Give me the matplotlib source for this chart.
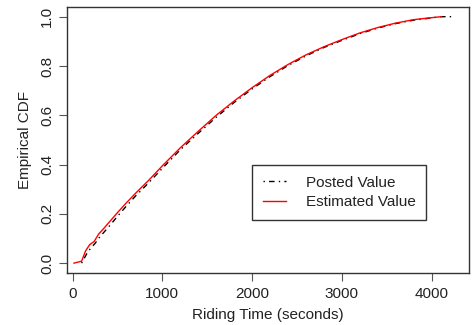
import matplotlib
matplotlib.use("Agg")
import matplotlib.pyplot as plt

plt.rcParams['font.family'] = ['Liberation Sans', 'DejaVu Sans']

# estimated riding time ECDF
est_x = [15, 100, 145, 190, 240, 290, 350, 400, 500, 600, 700, 850, 1000,
         1200, 1400, 1600, 1800, 2000, 2200, 2400, 2600, 2800, 3000, 3200,
         3400, 3600, 3800, 4000, 4110]
est_y = [0.0, 0.008, 0.05, 0.075, 0.088, 0.118, 0.142, 0.163, 0.205, 0.245,
         0.283, 0.337, 0.395, 0.468, 0.535, 0.6, 0.658, 0.712, 0.762, 0.806,
         0.845, 0.878, 0.907, 0.934, 0.956, 0.974, 0.988, 0.996, 1.0]

# posted riding time ECDF
post_x = [100, 130, 160, 200, 250, 300, 360, 420, 500, 600, 700, 850, 1000,
          1200, 1400, 1600, 1800, 2000, 2200, 2400, 2600, 2800, 3000, 3200,
          3400, 3600, 3800, 4000, 4100, 4250]
post_y = [0.0, 0.02, 0.04, 0.06, 0.08, 0.105, 0.13, 0.155, 0.19, 0.232, 0.272,
          0.327, 0.385, 0.46, 0.527, 0.592, 0.652, 0.707, 0.757, 0.802, 0.841,
          0.875, 0.904, 0.931, 0.954, 0.972, 0.986, 0.995, 1.0, 1.0]

x_ticks = [0, 1000, 2000, 3000, 4000]
y_ticks = [0.0, 0.2, 0.4, 0.6, 0.8, 1.0]

fig = plt.figure(figsize=(4.73, 3.25), dpi=100)
ax = fig.add_axes([0.141, 0.16, 0.8505, 0.819])

ax.plot(post_x, post_y, color="black", lw=1.0, linestyle=(0, (1, 3, 4, 3)), label="Posted Value")
ax.plot(est_x, est_y, color="#FF0000", lw=1.0, label="Estimated Value")

# R default: posted data range plus 4% on each side
ax.set_xlim(-66, 4416)
ax.set_ylim(-0.04, 1.04)
ax.set_xticks(x_ticks)
ax.set_yticks(y_ticks)
ax.set_yticklabels(["0.0", "0.2", "0.4", "0.6", "0.8", "1.0"], rotation=90, va="center")
ax.tick_params(labelsize=11, length=6, width=0.8, color="#555555", labelcolor="#222222", pad=4)
ax.tick_params(axis="y", pad=3)
for s in ax.spines.values():
    s.set_color("#333333")
    s.set_linewidth(1.0)

ax.set_xlabel("Riding Time (seconds)", fontsize=11, labelpad=5, color="#222222")
ax.set_ylabel("Empirical CDF", fontsize=11, labelpad=6, color="#222222")

leg = ax.legend(loc="upper left", bbox_to_anchor=(0.461, 0.406), fontsize=11,
                handlelength=1.5, handletextpad=1.3, borderpad=0.7,
                labelspacing=0.35, fancybox=False, framealpha=1, borderaxespad=0)
leg.get_frame().set_edgecolor("#333333")
leg.get_frame().set_linewidth(1.0)
for t in leg.get_texts():
    t.set_color("#222222")

fig.savefig("out.png", dpi=100)
